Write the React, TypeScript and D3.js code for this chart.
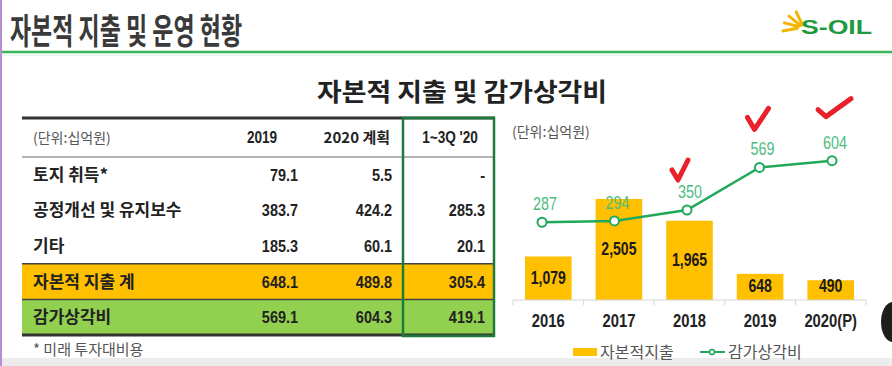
import React from 'react';
import * as d3 from 'd3';

// chart data (단위: 십억원)
const years = ['2016', '2017', '2018', '2019', '2020(P)'];
const capex = [1079, 2505, 1965, 648, 490];
const depreciation = [287, 294, 350, 569, 604];
const checkedYears = ['2018', '2019', '2020(P)'];
const legendLabels = ['자본적지출', '감가상각비'];

// table data
const tableHeaders = ['(단위:십억원)', '2019', '2020 계획', "1~3Q '20"];
const rowLabels = ['토지 취득*', '공정개선 및 유지보수', '기타', '자본적 지출 계', '감가상각비'];
const col2019 = ['79.1', '383.7', '185.3', '648.1', '569.1'];
const col2020Plan = ['5.5', '424.2', '60.1', '489.8', '604.3'];
const col3Q = ['-', '285.3', '20.1', '305.4', '419.1'];

const KR = '"Noto Sans CJK KR", "Noto Sans", sans-serif';
const NUM = '"Liberation Sans", Arial, sans-serif';
const YELLOW = '#ffc000';
const GREEN_LINE = '#22a85a';
const GREEN_LABEL = '#4dbd7e';

// numbers in the slide use a condensed face, so squeeze them horizontally
const Narrow = ({ x, y, anchor = 'start', size, bold = true, fill = '#222', sx = 0.8, children }: any) => (
  <text transform={`translate(${x},${y}) scale(${sx},1)`} textAnchor={anchor} fontFamily={NUM}
    fontWeight={bold ? 700 : 400} fontSize={size} fill={fill}>{children}</text>
);

const App = () => {
  const W = 892;
  const H = 366;

  // chart scales
  const x = d3.scaleBand().domain(years).range([513, 866]).paddingInner(0.34).paddingOuter(0.17);
  const yBar = d3.scaleLinear().domain([0, 3000]).range([300, 179]);
  const xLine = d3.scalePoint().domain(years).range([542, 832]);
  const yLine = d3.scaleLinear().domain([0, 700]).range([278, 142]);
  const fmt = d3.format(',');

  const linePath = d3.line<number>()
    .x((_, i) => xLine(years[i])!)
    .y(d => yLine(d))(depreciation);

  // table scales
  const rowY = d3.scaleBand().domain(rowLabels).range([157, 335]);
  const tableLeft = 22;
  const tableRight = 495;
  const colEnds = [298, 392, 485];
  const cols = [col2019, col2020Plan, col3Q];

  // check mark shapes, offset from the line point
  const checks: Record<string, number[][]> = {
    '2018': [[-15, -40], [-9, -30], [1, -50]],
    '2019': [[-12, -50], [-5, -38], [9, -59]],
    '2020(P)': [[-14, -51], [-6, -44], [19, -62]],
  };

  return (
    <svg width={W} height={H} style={{ position: 'absolute', left: 0, top: 0, background: '#fff' }}>
      {/* page frame */}
      <rect x={0} y={0} width={W} height={H} fill="#fff" />
      <rect x={0} y={358} width={W} height={8} fill="#ececec" />
      <line x1={1} y1={0} x2={1} y2={H} stroke="#b58fd2" strokeWidth={2} />

      {/* header */}
      <text x={10} y={44} fontFamily={KR} fontWeight={700} fontSize={35} fill="#3a3a3a"
        textLength={232} lengthAdjust="spacingAndGlyphs">자본적 지출 및 운영 현황</text>
      <line x1={2} y1={52} x2={W} y2={52} stroke="#3cb55a" strokeWidth={2.5} />
      <line x1={2} y1={55} x2={W} y2={55} stroke="#d8eedd" strokeWidth={1} />

      {/* logo */}
      <g>
        {[-70, -45, -20, 5].map((a, i) => {
          const r = (a * Math.PI) / 180;
          const cx = 802, cy = 30;
          return (
            <line key={i} x1={cx + Math.cos(r - Math.PI / 2) * 5} y1={cy + Math.sin(r - Math.PI / 2) * 5}
              x2={cx + Math.cos(r - Math.PI / 2 - 0.4) * 19} y2={cy + Math.sin(r - Math.PI / 2 - 0.4) * 19}
              stroke="#f5b400" strokeWidth={3} strokeLinecap="round" />
          );
        })}
        <text x={801} y={34} fontFamily={NUM} fontWeight={900} fontSize={21} fill="#1d9a3c"
          textLength={71} lengthAdjust="spacingAndGlyphs">S-OIL</text>
      </g>

      {/* chart title */}
      <text x={317} y={101} fontFamily={KR} fontWeight={700} fontSize={25} fill="#222"
        textLength={290} lengthAdjust="spacingAndGlyphs">자본적 지출 및 감가상각비</text>

      {/* table */}
      <rect x={tableLeft} y={rowY(rowLabels[3])!} width={tableRight - tableLeft} height={rowY.bandwidth()} fill={YELLOW} />
      <rect x={tableLeft} y={rowY(rowLabels[4])!} width={tableRight - tableLeft} height={rowY.bandwidth()} fill="#92d050" />
      <line x1={tableLeft} y1={118} x2={tableRight} y2={118} stroke="#333" strokeWidth={3} />
      <line x1={tableLeft} y1={157} x2={tableRight} y2={157} stroke="#666" strokeWidth={1} />
      <line x1={tableLeft} y1={rowY(rowLabels[3])!} x2={tableRight} y2={rowY(rowLabels[3])!} stroke="#444" strokeWidth={1.5} />
      <line x1={tableLeft} y1={rowY(rowLabels[4])!} x2={tableRight} y2={rowY(rowLabels[4])!} stroke="#444" strokeWidth={1.5} />
      <line x1={tableLeft} y1={335} x2={tableRight} y2={335} stroke="#333" strokeWidth={3} />
      <rect x={403} y={118} width={91} height={218} fill="none" stroke="#1e7b3a" strokeWidth={2.5} />

      <text x={33} y={143} fontFamily={KR} fontSize={14} fill="#555">{tableHeaders[0]}</text>
      <Narrow x={262} y={143} anchor="middle" size={17}>{tableHeaders[1]}</Narrow>
      <text x={390} y={143} textAnchor="end" fontFamily={KR} fontWeight={700} fontSize={15} fill="#222">{tableHeaders[2]}</text>
      <Narrow x={450} y={143} anchor="middle" size={17}>{tableHeaders[3]}</Narrow>

      {rowLabels.map((lab, i) => {
        const cy = rowY(lab)! + rowY.bandwidth() / 2;
        return (
          <g key={lab}>
            <text x={33} y={cy + 6} fontFamily={KR} fontWeight={700} fontSize={17} fill="#222">{lab}</text>
            {cols.map((c, j) => (
              <Narrow key={j} x={colEnds[j]} y={cy + 6} anchor="end" size={17} sx={0.85}>{c[i]}</Narrow>
            ))}
          </g>
        );
      })}

      <text x={33} y={355} fontFamily={KR} fontSize={15} fill="#555">* 미래 투자대비용</text>

      {/* bar + line chart */}
      <text x={512} y={137} fontFamily={KR} fontSize={14} fill="#555">(단위:십억원)</text>

      {capex.map((v, i) => (
        <rect key={years[i]} x={x(years[i])} y={yBar(v)} width={x.bandwidth()} height={yBar(0) - yBar(v)} fill={YELLOW} />
      ))}
      {capex.map((v, i) => {
        const mid = (yBar(v) + yBar(0)) / 2;
        return (
          <Narrow key={years[i]} x={x(years[i])! + x.bandwidth() / 2} y={Math.min(mid, 286) + 6} anchor="middle"
            size={18} fill="#1a1a1a" sx={0.78}>{fmt(v)}</Narrow>
        );
      })}

      <line x1={513} y1={300} x2={866} y2={300} stroke="#d4d4d4" strokeWidth={1} />
      {[...years.map(y => x(y)! - x.step() * x.paddingInner() / 2), 866].map((tx, i) => (
        <line key={i} x1={tx} y1={300} x2={tx} y2={305} stroke="#d4d4d4" strokeWidth={1} />
      ))}
      {years.map(y => (
        <Narrow key={y} x={x(y)! + x.bandwidth() / 2} y={327} anchor="middle" size={18.5} sx={0.8}>{y}</Narrow>
      ))}

      <path d={linePath!} fill="none" stroke={GREEN_LINE} strokeWidth={2.5} />
      {depreciation.map((v, i) => (
        <g key={years[i]}>
          <circle cx={xLine(years[i])} cy={yLine(v)} r={4.5} fill="#fff" stroke={GREEN_LINE} strokeWidth={2} />
          <Narrow x={xLine(years[i])! + 3} y={yLine(v) - 12} anchor="middle" size={17.5} bold={false}
            fill={GREEN_LABEL} sx={0.82}>{v}</Narrow>
        </g>
      ))}

      {/* red check marks */}
      {checkedYears.map(yr => {
        const i = years.indexOf(yr);
        const px = xLine(yr)!;
        const py = yLine(depreciation[i]);
        const pts = checks[yr];
        const d = 'M' + pts.map(p => `${px + p[0]},${py + p[1]}`).join('L');
        return <path key={yr} d={d} fill="none" stroke="#e8212b" strokeWidth={5} strokeLinecap="round" strokeLinejoin="round" />;
      })}

      {/* legend */}
      <rect x={573} y={348} width={24} height={8} fill={YELLOW} />
      <text x={600} y={358} fontFamily={KR} fontSize={16} fill="#555">{legendLabels[0]}</text>
      <line x1={700} y1={352} x2={725} y2={352} stroke={GREEN_LINE} strokeWidth={2} />
      <circle cx={712} cy={352} r={2.5} fill="#fff" stroke={GREEN_LINE} strokeWidth={1.5} />
      <text x={728} y={358} fontFamily={KR} fontSize={16} fill="#555">{legendLabels[1]}</text>

      {/* viewer's head at the corner */}
      <ellipse cx={893} cy={322} rx={12} ry={20} fill="#1e1e1e" />
    </svg>
  );
};

export default App;
